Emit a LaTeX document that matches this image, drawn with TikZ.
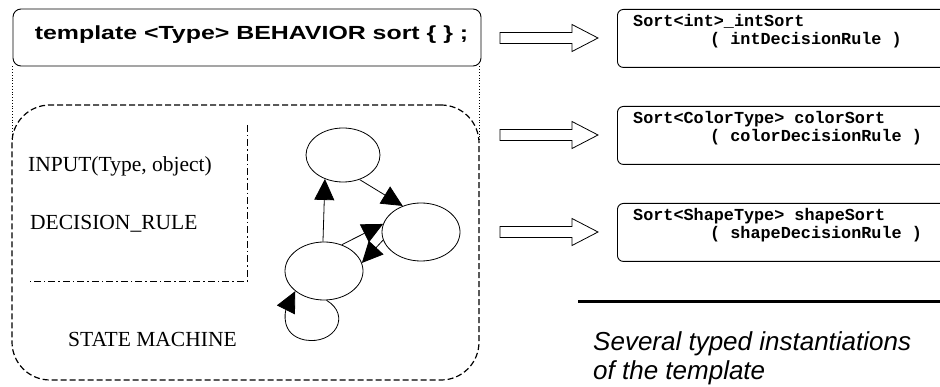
\documentclass[tikz,border=0pt]{standalone}
\usepackage{fontspec}
\setmainfont{Liberation Serif}
\newfontfamily\tplfont{Liberation Sans}[FakeStretch=1.31]
\newfontfamily\notefont{Liberation Sans}
\newfontfamily\codefont{Liberation Mono}
\usetikzlibrary{arrows.meta,shapes.geometric}
\begin{document}
\begin{tikzpicture}[x=1pt,y=-1pt,
  tplbox/.style={draw, rounded corners=8pt, line width=0.9pt, inner sep=0pt,
    minimum width=468pt, minimum height=57pt},
  machinebox/.style={draw, dashed, dash pattern=on 6pt off 3pt, line width=1.2pt,
    rounded corners=38pt, inner sep=0pt, minimum width=467pt, minimum height=275pt},
  instbox/.style={draw, rounded corners=6pt, line width=0.9pt, inner sep=0pt,
    minimum width=343pt, minimum height=58pt, anchor=north west},
  state/.style={draw, ellipse, line width=0.8pt, inner sep=0pt},
  trans/.style={line width=0.8pt, arrows={-Triangle[length=21pt,width=20pt]}},
  serif/.style={anchor=base west, inner sep=0pt, font=\fontsize{21.5pt}{24pt}\selectfont},
  code/.style={anchor=base west, inner sep=0pt, font=\codefont\bfseries\fontsize{16.8pt}{18pt}\selectfont},
  note/.style={anchor=base west, inner sep=0pt, font=\notefont\itshape\fontsize{26pt}{30pt}\selectfont},
  frameline/.style={dotted, line width=0.8pt},
  fatarrow/.pic={\draw[line width=0.8pt] (0,-5.5) -- (72,-5.5) -- (72,-13.5) -- (98,0)
      -- (72,13.5) -- (72,5.5) -- (0,5.5) -- cycle;}
]
\clip (0,0) rectangle (940,387);

% template header
\node[tplbox] (tpl) at (247,37.5) {};
\node[anchor=base, inner sep=0pt, font=\tplfont\bfseries\fontsize{19pt}{22pt}\selectfont]
  (tpltext) at (251.5,40) {template <Type> BEHAVIOR sort \{ \} ;};

% state machine container
\node[machinebox] (sm) at (245.5,242.5) {};
\draw[frameline] (tpl.south west) -- (tpl.south west |- 0,140);
\draw[frameline] (tpl.south east) ++(-2,0) coordinate (fr) -- (fr |- 0,140);

% input / decision rule region
\coordinate (dr1) at (247,125);
\coordinate (dr2) at (247,281);
\coordinate (dr3) at (30,281);
\draw[line width=0.9pt, dash pattern=on 7pt off 3pt on 1.5pt off 3pt] (dr1) -- (dr2) -- (dr3);

\node[serif] (input) at (28,172) {INPUT(Type, object)};
\node[serif] (rule) at (30,230) {DECISION\_RULE};
\node[serif] (smlabel) at (68,347) {STATE MACHINE};

% states and transitions
\node[state, minimum width=74pt, minimum height=54pt] (t) at (343,155) {};
\node[state, minimum width=78pt, minimum height=58pt] (r) at (421,232) {};
\node[state, minimum width=78pt, minimum height=58pt] (b) at (324,271) {};

\draw[trans] (b.92) -- (t.233);
\draw[trans] (t.304) -- (r.125);
\draw[trans] (b.56) -- (r.168);
\draw[trans] (r.192) -- (b.12);
\draw[trans] (b.275) .. controls +(25,15) and +(30,5) .. (305,340)
  .. controls +(-25,-5) and +(-10,20) .. (b.215);

% typed instantiations
\pic at (500,38) {fatarrow};
\pic at (500,135) {fatarrow};
\pic at (500,232) {fatarrow};

\node[instbox] (inst1) at (617,9) {};
\node[instbox] (inst2) at (617,106) {};
\node[instbox] (inst3) at (617,203) {};

\node[code] (i1a) at (633,27) {Sort<int>\_intSort};
\node[code] (i1b) at (710,45) {( intDecisionRule )};
\node[code] (i2a) at (633,124) {Sort<ColorType> colorSort};
\node[code] (i2b) at (710,142) {( colorDecisionRule )};
\node[code] (i3a) at (633,221) {Sort<ShapeType> shapeSort};
\node[code] (i3b) at (710,239) {( shapeDecisionRule )};

\coordinate (rule1) at (578,302);
\coordinate (rule2) at (940,302);
\draw[line width=3pt] (rule1) -- (rule2);

\node[note] (note1) at (593,351) {Several typed instantiations};
\node[note] (note2) at (593,380) {of the template};
\end{tikzpicture}
\end{document}
